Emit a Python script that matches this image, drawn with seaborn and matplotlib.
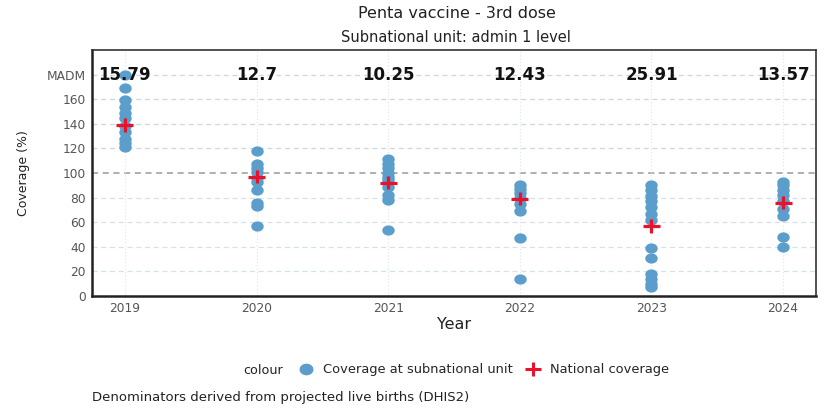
import numpy as np
import pandas as pd
import seaborn as sns
import matplotlib.pyplot as plt
from matplotlib.lines import Line2D
from matplotlib.path import Path

# values
years = [2019, 2020, 2021, 2022, 2023, 2024]
sub_2019 = [180, 169, 159, 154, 149, 145, 138, 133, 128, 124, 121]
sub_2020 = [118, 107, 104, 101, 96, 93, 86, 76, 73, 57]
sub_2021 = [111, 107, 104, 100, 97, 94, 89, 82, 78, 54]
sub_2022 = [90, 87, 84, 80, 75, 69, 47, 14]
sub_2023 = [90, 86, 81, 77, 72, 67, 62, 39, 31, 18, 14, 10, 7]
sub_2024 = [93, 90, 86, 82, 77, 71, 65, 48, 40]
national = [139, 97, 92, 79, 57, 76]
madm = ["15.79", "12.7", "10.25", "12.43", "25.91", "13.57"]
y_ticks = [0, 20, 40, 60, 80, 100, 120, 140, 160, 180]
y_ticklabels = ["0", "20", "40", "60", "80", "100", "120", "140", "160", "MADM"]

sub_lists = [sub_2019, sub_2020, sub_2021, sub_2022, sub_2023, sub_2024]
sub_df = pd.DataFrame(
    [(y, v) for y, vals in zip(years, sub_lists) for v in vals],
    columns=["year", "coverage"],
)
nat_df = pd.DataFrame({"year": years, "coverage": national})

sns.set_style("white")
plt.rcParams["font.family"] = ["DejaVu Sans"]

BLUE = "#5b9dcb"
RED = "#e8132b"

# the reference is a bit wider than tall, so the markers are too
theta = np.linspace(0, 2 * np.pi, 60)
ellipse = Path(np.column_stack([np.cos(theta), 0.82 * np.sin(theta)]), closed=True)
cross = Path([(-1, 0), (1, 0), (0, -0.78), (0, 0.78)],
             [Path.MOVETO, Path.LINETO, Path.MOVETO, Path.LINETO])

fig = plt.figure(figsize=(8.24, 4.09), dpi=100)
ax = fig.add_axes([92 / 824, 113 / 409, 724 / 824, 246 / 409])

# grid
for t in y_ticks:
    if t == 0:
        continue
    col = "#9a9a9a" if t == 100 else ("#cfd6dc" if t > 100 else "#d3e1ec")
    lw = 1.1 if t == 100 else 0.9
    ax.axhline(t, color=col, lw=lw, ls=(0, (4, 3)), zorder=0)
for yr in years:
    ax.axvline(yr, color="#dde4ea", lw=0.8, ls=(0, (1, 2)), zorder=0)

sns.scatterplot(data=sub_df, x="year", y="coverage", color=BLUE, s=80,
                marker=ellipse, edgecolor=BLUE, linewidth=0, ax=ax,
                zorder=3, legend=False)
sns.scatterplot(data=nat_df, x="year", y="coverage", color=RED, marker=cross,
                s=150, edgecolor=RED, facecolor="none", linewidth=2.3, ax=ax,
                zorder=4, legend=False)

for yr, m in zip(years, madm):
    ax.text(yr, 180, m, ha="center", va="center", fontsize=12,
            fontweight="bold", color="#111111", zorder=5)

ax.set_xlim(2018.75, 2024.25)
ax.set_ylim(0, 200)
ax.set_xticks(years)
ax.set_xticklabels([str(y) for y in years])
ax.set_yticks(y_ticks)
ax.set_yticklabels(y_ticklabels)
ax.tick_params(axis="both", length=3, width=1.2, color="#333333",
               labelsize=8.8, labelcolor="#555555", direction="out", pad=1.5)

for side in ["top", "right"]:
    ax.spines[side].set_color("#333333")
    ax.spines[side].set_linewidth(1.2)
for side in ["left", "bottom"]:
    ax.spines[side].set_color("#222222")
    ax.spines[side].set_linewidth(1.8)

ax.set_xlabel("Year", fontsize=11.5, color="#222222", labelpad=1)
ax.set_ylabel("Coverage (%)", fontsize=9, color="#222222", labelpad=12)

fig.text(457 / 824, 1 - 14 / 409, "Penta vaccine - 3rd dose", ha="center",
         va="center", fontsize=11.5, color="#222222")
fig.text(456 / 824, 1 - 37 / 409, "Subnational unit: admin 1 level",
         ha="center", va="center", fontsize=10.5, color="#222222")

handles = [
    Line2D([], [], marker=ellipse, ls="", color=BLUE, markersize=9),
    Line2D([], [], marker=cross, ls="", color=RED, markersize=12,
           markeredgewidth=2.2),
]
fig.text(283 / 824, 1 - 370 / 409, "colour", ha="right", va="center",
         fontsize=9.2, color="#222222")
fig.legend(handles, ["Coverage at subnational unit", "National coverage"],
           loc="center left", bbox_to_anchor=(290 / 824, 1 - 370 / 409),
           ncol=2, frameon=False, fontsize=9.4, handletextpad=0.5,
           columnspacing=0.8, handlelength=1.6, borderaxespad=0)

fig.text(92 / 824, 1 - 397 / 409,
         "Denominators derived from projected live births (DHIS2)",
         ha="left", va="center", fontsize=9.5, color="#222222")

fig.savefig("out.png", dpi=100)
